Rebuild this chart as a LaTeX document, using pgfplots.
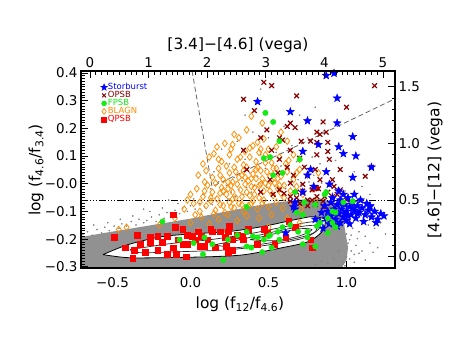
\documentclass[border=0pt]{standalone}
\usepackage{pgfplots}
\pgfplotsset{compat=1.18}
\usepackage{fontspec}
\setmainfont{DejaVu Sans}
\definecolor{dkred}{RGB}{140,0,0}
\definecolor{fgreen}{RGB}{20,235,20}
\definecolor{borange}{RGB}{255,140,0}
\definecolor{sblue}{RGB}{0,0,255}
\definecolor{cloud}{RGB}{145,145,145}
\definecolor{cloudpt}{RGB}{130,130,130}
\pgfdeclareplotmark{fstar}{%
 \pgfpathmoveto{\pgfpointpolar{90}{\pgfplotmarksize}}%
 \pgfpathlineto{\pgfpointpolar{126}{0.42\pgfplotmarksize}}%
 \pgfpathlineto{\pgfpointpolar{162}{\pgfplotmarksize}}%
 \pgfpathlineto{\pgfpointpolar{198}{0.42\pgfplotmarksize}}%
 \pgfpathlineto{\pgfpointpolar{234}{\pgfplotmarksize}}%
 \pgfpathlineto{\pgfpointpolar{270}{0.42\pgfplotmarksize}}%
 \pgfpathlineto{\pgfpointpolar{306}{\pgfplotmarksize}}%
 \pgfpathlineto{\pgfpointpolar{342}{0.42\pgfplotmarksize}}%
 \pgfpathlineto{\pgfpointpolar{18}{\pgfplotmarksize}}%
 \pgfpathlineto{\pgfpointpolar{54}{0.42\pgfplotmarksize}}%
 \pgfpathclose
 \pgfusepathqfillstroke
}
\begin{document}
\begin{tikzpicture}
\path[use as bounding box] (0bp,0bp) rectangle (474bp,338bp);
\begin{axis}[at={(81bp,70bp)}, anchor=south west, scale only axis,
 width=314bp, height=197bp,
 xmin=-0.702, xmax=1.311, ymin=-0.10, ymax=1.64,
 axis line style={line width=1.2bp},
 tick style={line width=0.9bp, black}, tick align=inside,
 major tick length=7bp, minor tick length=3.5bp,
 xtick={-0.5,0,0.5,1}, xticklabels={−0.5,0.0,0.5,1.0}, minor x tick num=4,
 xtick pos=left, xticklabel pos=left,
 ytick={0,0.5,1,1.5}, yticklabels={0.0,0.5,1.0,1.5}, minor y tick num=4,
 ytick pos=right, yticklabel pos=right,
 ticklabel style={font=\fontsize{13.5}{14}\selectfont},
 xticklabel style={yshift=-6bp},
 legend style={at={(axis description cs:0.062,0.94)}, anchor=north west, draw=none, fill=none,
   font=\fontsize{8.5}{8.5}\selectfont, row sep=-0.6bp, nodes={inner sep=0.4bp}, inner sep=0pt},
 legend cell align=left,
 legend image code/.code={\draw[#1] plot coordinates {(0.05cm,0cm)};},
]
% dense background cloud
\addplot[forget plot, draw=none, fill=cloud] coordinates {
(-0.72,0.168)(-0.58,0.203)(-0.388,0.247)(-0.196,0.291)(-0.003,0.335)(0.189,0.388)(0.381,0.441)
(0.542,0.477)(0.702,0.503)(0.830,0.512)(0.926,0.477)(0.975,0.397)(0.99,0.238)(1.01,0.08)
(1.00,-0.03)(0.96,-0.12)(-0.72,-0.12)};
% scattered background points
\addplot[forget plot, only marks, mark=*, mark size=0.6bp, cloudpt, draw=none] coordinates {
(-0.69,0.20)(-0.66,0.22)(-0.63,0.19)(-0.60,0.24)(-0.57,0.21)(-0.55,0.26)(-0.52,0.23)(-0.49,0.27)
(-0.46,0.25)(-0.44,0.29)(-0.41,0.27)(-0.38,0.31)(-0.35,0.28)(-0.33,0.33)(-0.30,0.30)(-0.68,0.25)
(-0.62,0.28)(-0.53,0.30)(-0.45,0.33)(-0.37,0.36)
(-0.28,0.32)(-0.25,0.35)(-0.22,0.31)(-0.20,0.37)(-0.17,0.34)(-0.15,0.39)(-0.12,0.36)(-0.10,0.41)
(-0.07,0.38)(-0.05,0.43)(-0.02,0.40)(0.00,0.45)(0.03,0.42)(0.06,0.47)(0.09,0.44)(-0.26,0.40)
(-0.18,0.43)(-0.08,0.47)(0.02,0.51)(0.08,0.55)(-0.14,0.50)(-0.30,0.42)
(0.11,0.49)(0.14,0.46)(0.16,0.52)(0.19,0.49)(0.21,0.55)(0.24,0.51)(0.26,0.57)(0.29,0.53)
(0.31,0.59)(0.34,0.55)(0.36,0.61)(0.39,0.57)(0.41,0.63)(0.44,0.59)(0.46,0.65)(0.49,0.61)
(0.13,0.60)(0.18,0.66)(0.23,0.63)(0.28,0.70)(0.33,0.67)(0.38,0.74)(0.43,0.71)(0.48,0.78)
(0.15,0.75)(0.25,0.82)(0.35,0.86)(0.45,0.90)(0.20,0.95)(0.30,1.02)(0.40,1.10)(0.50,1.05)
(0.35,1.25)(0.45,1.48)
(0.51,0.56)(0.54,0.62)(0.56,0.58)(0.59,0.64)(0.61,0.60)(0.64,0.66)(0.66,0.62)(0.69,0.68)
(0.71,0.64)(0.74,0.70)(0.76,0.66)(0.79,0.72)(0.81,0.60)(0.84,0.65)(0.86,0.58)(0.89,0.62)
(0.91,0.56)(0.94,0.60)(0.96,0.55)(0.99,0.58)(0.53,0.72)(0.58,0.80)(0.63,0.76)(0.68,0.84)
(0.73,0.80)(0.78,0.88)(0.83,0.82)(0.88,0.92)(0.93,0.85)(0.55,0.92)(0.65,0.98)(0.75,1.05)
(0.85,1.10)(0.60,1.15)(0.70,1.25)(0.80,1.32)(0.95,1.00)(1.05,0.75)(1.10,0.62)(1.15,0.55)
(1.00,0.20)(1.02,0.15)(1.04,0.25)(1.06,0.10)(1.08,0.22)(1.10,0.05)(1.12,0.18)(1.05,0.02)
(1.15,0.12)(1.20,0.08)(1.00,0.00)(0.98,-0.05)(1.02,-0.02)(1.18,0.25)(1.25,0.20)(1.22,0.30)
(0.80,-0.07)(0.84,-0.04)(0.88,-0.06)(0.92,-0.02)(0.95,0.05)(1.12,-0.03)(1.14,0.28)(1.17,0.04)
(1.03,0.05)(1.01,0.12)(1.03,0.19)(1.07,0.16)(1.05,-0.05)(0.99,-0.08)(1.08,0.03)(1.02,0.28)
};
% contours
\addplot[forget plot, draw=black, line width=0.8bp, fill=white, smooth] coordinates {
(-0.561,0.018)(-0.401,0.106)(-0.183,0.177)(0.029,0.203)(0.240,0.221)(0.458,0.265)(0.670,0.327)
(0.779,0.353)(0.862,0.327)(0.843,0.221)(0.753,0.132)(0.587,0.079)(0.349,0.018)(0.138,0.000)
(-0.183,-0.009)(-0.401,-0.009)(-0.561,0.018)};
\addplot[forget plot, draw=black!85, line width=0.7bp, smooth] coordinates {
(-0.388,0.062)(-0.131,0.115)(0.125,0.150)(0.381,0.203)(0.638,0.274)(0.798,0.309)(0.830,0.256)
(0.734,0.168)(0.510,0.106)(0.253,0.062)(-0.067,0.044)(-0.324,0.035)(-0.388,0.062)};
\addplot[forget plot, draw=black!85, line width=0.7bp, smooth] coordinates {
(0.157,0.106)(0.317,0.150)(0.510,0.212)(0.702,0.265)(0.804,0.274)(0.792,0.212)(0.670,0.159)
(0.478,0.115)(0.285,0.079)(0.157,0.106)};
\addplot[forget plot, draw=black!85, line width=0.7bp, smooth] coordinates {
(0.381,0.150)(0.542,0.203)(0.702,0.247)(0.779,0.238)(0.702,0.185)(0.542,0.141)(0.381,0.150)};
% reference lines
\addplot[forget plot, black, line width=0.9bp,
 dash pattern=on 7bp off 2bp on 1bp off 2bp on 1bp off 2bp on 1bp off 2bp] coordinates {(-0.702,0.5)(1.311,0.5)};
\addplot[forget plot, black!60, line width=0.8bp, dash pattern=on 5bp off 3bp] coordinates {
(0.010,1.641)(0.138,0.618)(1.311,1.395)};
% BLAGN
\addplot[forget plot, only marks, mark=diamond, mark size=3.3bp, borange, mark options={line width=0.75bp}] coordinates {
(0.39,1.24)(0.36,1.12)(0.46,1.18)(0.58,1.10)(0.28,1.08)
(0.22,1.00)(0.31,1.05)(0.40,0.98)(0.47,1.04)(0.55,0.97)(0.35,0.93)(0.26,0.95)(0.62,1.02)(0.44,0.92)(0.17,0.97)
(0.12,0.88)(0.20,0.84)(0.25,0.90)(0.30,0.86)(0.34,0.81)(0.38,0.88)(0.42,0.84)(0.48,0.90)(0.52,0.83)
(0.57,0.88)(0.61,0.82)(0.66,0.90)(0.23,0.80)(0.45,0.95)(0.08,0.82)(0.70,0.86)
(0.05,0.72)(0.10,0.76)(0.14,0.70)(0.18,0.78)(0.21,0.68)(0.25,0.74)(0.28,0.79)(0.31,0.70)(0.34,0.76)
(0.37,0.67)(0.40,0.73)(0.43,0.79)(0.46,0.69)(0.49,0.75)(0.52,0.67)(0.55,0.78)(0.58,0.71)(0.62,0.75)
(0.66,0.68)(0.70,0.77)(0.75,0.72)(0.27,0.66)(0.16,0.65)(0.48,0.65)(0.82,0.74)
(0.00,0.55)(0.04,0.60)(0.08,0.53)(0.11,0.63)(0.14,0.57)(0.17,0.51)(0.20,0.61)(0.23,0.55)(0.26,0.63)
(0.29,0.52)(0.32,0.59)(0.35,0.64)(0.38,0.54)(0.41,0.61)(0.44,0.52)(0.47,0.58)(0.50,0.63)(0.53,0.54)
(0.56,0.60)(0.60,0.52)(0.64,0.58)(0.68,0.62)(0.72,0.55)(0.78,0.60)(0.19,0.56)(0.36,0.57)(0.45,0.64)(0.58,0.56)
(-0.04,0.42)(0.02,0.47)(0.06,0.40)(0.10,0.45)(0.13,0.49)(0.16,0.41)(0.19,0.46)(0.22,0.39)(0.25,0.48)
(0.28,0.43)(0.31,0.47)(0.34,0.40)(0.37,0.45)(0.40,0.49)(0.43,0.42)(0.46,0.47)(0.50,0.44)(0.55,0.48)
(0.59,0.43)(0.65,0.45)(0.71,0.42)(0.80,0.49)
(-0.10,0.34)(0.00,0.30)(0.07,0.35)(0.12,0.29)(0.18,0.33)(0.24,0.37)(0.30,0.32)(0.36,0.36)(0.44,0.34)
(0.52,0.37)(0.62,0.34)(0.70,0.30)
(-0.46,0.24)(-0.41,0.26)(-0.20,0.28)(0.05,0.22)(0.22,0.20)(0.50,0.26)
(0.21,0.58)(0.24,0.66)(0.27,0.57)(0.30,0.64)(0.33,0.72)(0.36,0.79)(0.39,0.62)(0.42,0.69)(0.45,0.76)
(0.48,0.83)(0.51,0.71)(0.54,0.65)(0.57,0.63)(0.33,0.53)(0.39,0.47)(0.26,0.44)(0.29,0.75)(0.41,0.55)
(0.47,0.50)(0.53,0.78)(0.32,0.88)(0.38,0.96)(0.43,1.01)(0.50,0.95)(0.27,0.99)(0.15,0.91)(0.19,0.72)
(0.09,0.66)(0.13,0.52)(0.06,0.48)
(-0.02,0.50)(0.03,0.37)(0.09,0.58)(0.15,0.38)(0.21,0.45)(0.27,0.51)(0.33,0.46)(0.39,0.69)(0.44,0.63)
(0.51,0.58)(0.56,0.69)(0.60,0.63)(0.63,0.85)(0.68,0.74)(0.35,0.70)(0.24,0.60)(0.18,0.86)(0.42,0.77)
};
% QPSB
\addplot[forget plot, only marks, mark=square*, mark size=2.9bp, red, draw=red] coordinates {
(-0.49,0.17)(-0.42,0.08)(-0.36,0.06)(-0.37,-0.01)(-0.34,0.19)(-0.29,0.04)(-0.26,0.17)(-0.26,0.13)
(-0.21,0.18)(-0.21,0.06)(-0.18,0.13)(-0.15,0.18)(-0.15,0.02)(-0.10,0.26)(-0.11,0.08)(-0.08,0.15)
(-0.05,0.11)(-0.09,0.02)(-0.03,0.00)(-0.02,0.19)(-0.05,0.24)(0.03,0.15)(0.05,0.22)(0.07,0.18)
(0.09,0.09)(0.11,0.15)(0.14,0.22)(0.16,0.08)(0.22,0.17)(0.23,0.09)(0.24,0.22)(0.27,0.15)(0.24,0.04)
(0.33,0.18)(0.37,0.24)(0.43,0.11)(0.49,0.21)(0.54,0.11)(0.63,0.31)(0.67,0.26)(0.61,0.17)(0.78,0.08)
(0.80,0.61)(0.77,0.15)(0.47,0.24)(-0.02,0.11)(0.01,0.18)(0.06,0.09)(0.13,0.24)(0.19,0.22)(0.25,0.27)
(0.30,0.19)(0.34,0.15)(0.27,0.06)(-0.32,0.11)(-0.11,0.37)
};
% OPSB
\addplot[forget plot, only marks, mark=x, mark size=3.3bp, dkred, mark options={line width=1.2bp}] coordinates {
(0.47,1.54)(0.52,1.51)(0.34,1.39)(0.68,1.42)(1.00,1.32)(1.18,1.51)(0.64,1.18)(0.85,1.19)(0.81,1.10)
(0.87,1.10)(0.62,1.15)(0.57,1.05)(0.71,1.02)(0.81,1.01)(0.88,1.01)(0.41,1.29)(0.64,0.94)(0.52,0.94)
(0.81,0.90)(0.88,0.93)(0.70,0.87)(0.57,0.86)(0.89,0.86)(0.73,0.79)(0.80,0.77)(0.96,0.77)(1.16,0.79)
(1.12,0.71)(0.66,0.72)(0.62,0.79)(0.56,0.74)(0.51,0.68)(0.64,0.65)(0.83,0.68)(0.91,0.68)(0.72,0.64)
(0.78,0.59)(0.88,0.57)(0.96,0.59)(0.57,0.59)(0.68,0.57)(0.81,0.53)(0.91,0.53)(1.00,0.50)(0.75,0.50)
(0.85,0.49)(0.64,0.53)(0.53,0.55)(0.45,0.57)(0.36,0.77)(0.34,0.94)(0.45,1.05)(0.49,1.12)(0.59,1.03)
(0.67,1.14)(0.83,1.08)(0.77,1.02)
(0.70,0.47)(0.75,0.45)(0.80,0.46)(0.85,0.44)(0.90,0.47)(0.78,0.50)(0.68,0.52)(0.86,0.53)(0.94,0.55)
(0.72,0.58)(0.82,0.60)(0.64,0.49)(0.60,0.56)(0.92,0.62)
};
% Starburst
\addplot[forget plot, only marks, mark=fstar, mark size=4.2bp, sblue, fill=sblue] coordinates {
(0.87,1.60)(0.92,1.62)(0.94,1.40)(0.43,1.37)(0.64,1.28)(0.75,1.20)(0.94,1.18)(1.04,1.06)(1.06,0.89)
(0.82,0.99)(0.95,0.97)(0.98,0.91)(0.72,0.93)(1.16,0.79)(1.04,0.70)(0.87,0.75)(0.77,0.77)(0.79,0.62)
(0.89,0.64)(0.72,0.57)(0.67,0.48)(1.15,0.44)(0.75,0.72)(0.66,0.44)(0.61,0.21)(0.67,0.42)
(0.86,0.45)(0.88,0.40)(0.90,0.36)(0.90,0.48)(0.92,0.42)(0.93,0.33)(0.94,0.46)(0.95,0.38)(0.96,0.30)
(0.96,0.50)(0.97,0.42)(0.98,0.35)(0.99,0.46)(1.00,0.40)(1.00,0.32)(1.01,0.52)(1.02,0.44)(1.03,0.37)
(1.04,0.48)(1.05,0.41)(1.06,0.34)(1.07,0.45)(1.08,0.39)(1.10,0.43)(1.12,0.37)(1.14,0.41)(1.16,0.35)
(1.18,0.40)(1.09,0.50)(0.98,0.55)(0.91,0.52)(0.87,0.34)(0.89,0.29)(0.94,0.27)(1.02,0.29)(1.11,0.31)
(1.20,0.33)(1.13,0.47)(1.05,0.55)(0.95,0.58)(0.84,0.39)(0.99,0.38)(1.04,0.43)(0.97,0.47)(0.93,0.39)
(1.01,0.36)(1.07,0.38)(0.92,0.31)(1.15,0.45)(1.22,0.38)(0.83,0.31)(0.85,0.25)(0.80,0.33)(1.24,0.36)(1.19,0.30)
};
% FPSB
\addplot[forget plot, only marks, mark=*, mark size=2.7bp, fgreen, draw=fgreen] coordinates {
(0.48,1.27)(0.53,1.19)(0.57,1.02)(0.47,0.87)(0.51,0.88)(0.70,0.86)(0.59,0.74)(0.86,0.55)(1.04,0.49)
(0.36,0.44)(0.98,0.48)(-0.18,0.31)(-0.07,0.15)(0.08,0.02)(0.21,-0.03)(0.36,0.22)(0.39,0.08)(0.43,0.17)
(0.53,0.72)(0.67,0.57)(0.87,0.57)(0.80,0.46)(0.93,0.39)(0.91,0.30)(0.88,0.21)(0.83,0.30)(0.68,0.39)
(0.64,0.28)(0.56,0.22)(0.57,0.15)(0.47,0.15)(0.46,0.04)(0.51,0.19)(0.75,0.22)(0.80,0.09)(0.40,0.18)
(0.36,0.09)(0.02,0.12)(0.09,0.17)(0.14,0.11)(0.24,0.15)(0.30,0.19)(0.50,0.18)(0.52,0.08)(0.69,0.22)
(0.72,0.37)(0.72,0.11)(0.75,0.17)(0.81,0.27)(0.88,0.34)(0.91,0.40)(0.93,0.26)(0.73,0.48)(0.59,0.26)
};
% legend
\addlegendimage{only marks, mark=fstar, mark size=3.6bp, sblue, fill=sblue}
\addlegendentry{\textcolor{sblue}{Storburst}}
\addlegendimage{only marks, mark=x, mark size=2.7bp, dkred, mark options={line width=1bp}}
\addlegendentry{\textcolor{dkred}{OPSB}}
\addlegendimage{only marks, mark=*, mark size=2.5bp, fgreen, draw=fgreen}
\addlegendentry{\textcolor{fgreen}{FPSB}}
\addlegendimage{only marks, mark=diamond, mark size=2.9bp, borange, mark options={line width=0.7bp}}
\addlegendentry{\textcolor{borange}{BLAGN}}
\addlegendimage{only marks, mark=square*, mark size=2.6bp, red, draw=red}
\addlegendentry{\textcolor{red}{QPSB}}
\end{axis}
\begin{axis}[at={(81bp,70bp)}, anchor=south west, scale only axis,
 width=314bp, height=197bp,
 xmin=-0.154, xmax=5.205, ymin=-0.304, ymax=0.4072,
 axis line style={line width=1.2bp},
 tick style={line width=0.9bp, black}, tick align=inside,
 major tick length=7bp, minor tick length=3.5bp,
 xtick={0,1,2,3,4,5}, xticklabels={0,1,2,3,4,5}, minor x tick num=9,
 xtick pos=right, xticklabel pos=right,
 ytick={-0.3,-0.2,-0.1,0,0.1,0.2,0.3,0.4},
 yticklabels={−0.3,−0.2,−0.1,−0.0,0.1,0.2,0.3,0.4}, minor y tick num=9,
 ytick pos=left, yticklabel pos=left,
 ticklabel style={font=\fontsize{13.5}{14}\selectfont},
]
\end{axis}
\node[font=\fontsize{15.5}{16}\selectfont] at (238bp,293bp) {[3.4]−[4.6] (vega)};
\node[font=\fontsize{15.5}{16}\selectfont] at (240bp,34bp) {log (f\textsubscript{12}/f\textsubscript{4.6})};
\node[font=\fontsize{15.5}{16}\selectfont, rotate=90] at (36bp,168bp) {log (f\textsubscript{4.6}/f\textsubscript{3.4})};
\node[font=\fontsize{15.5}{16}\selectfont, rotate=90] at (435bp,168bp) {[4.6]−[12] (vega)};
\end{tikzpicture}
\end{document}
